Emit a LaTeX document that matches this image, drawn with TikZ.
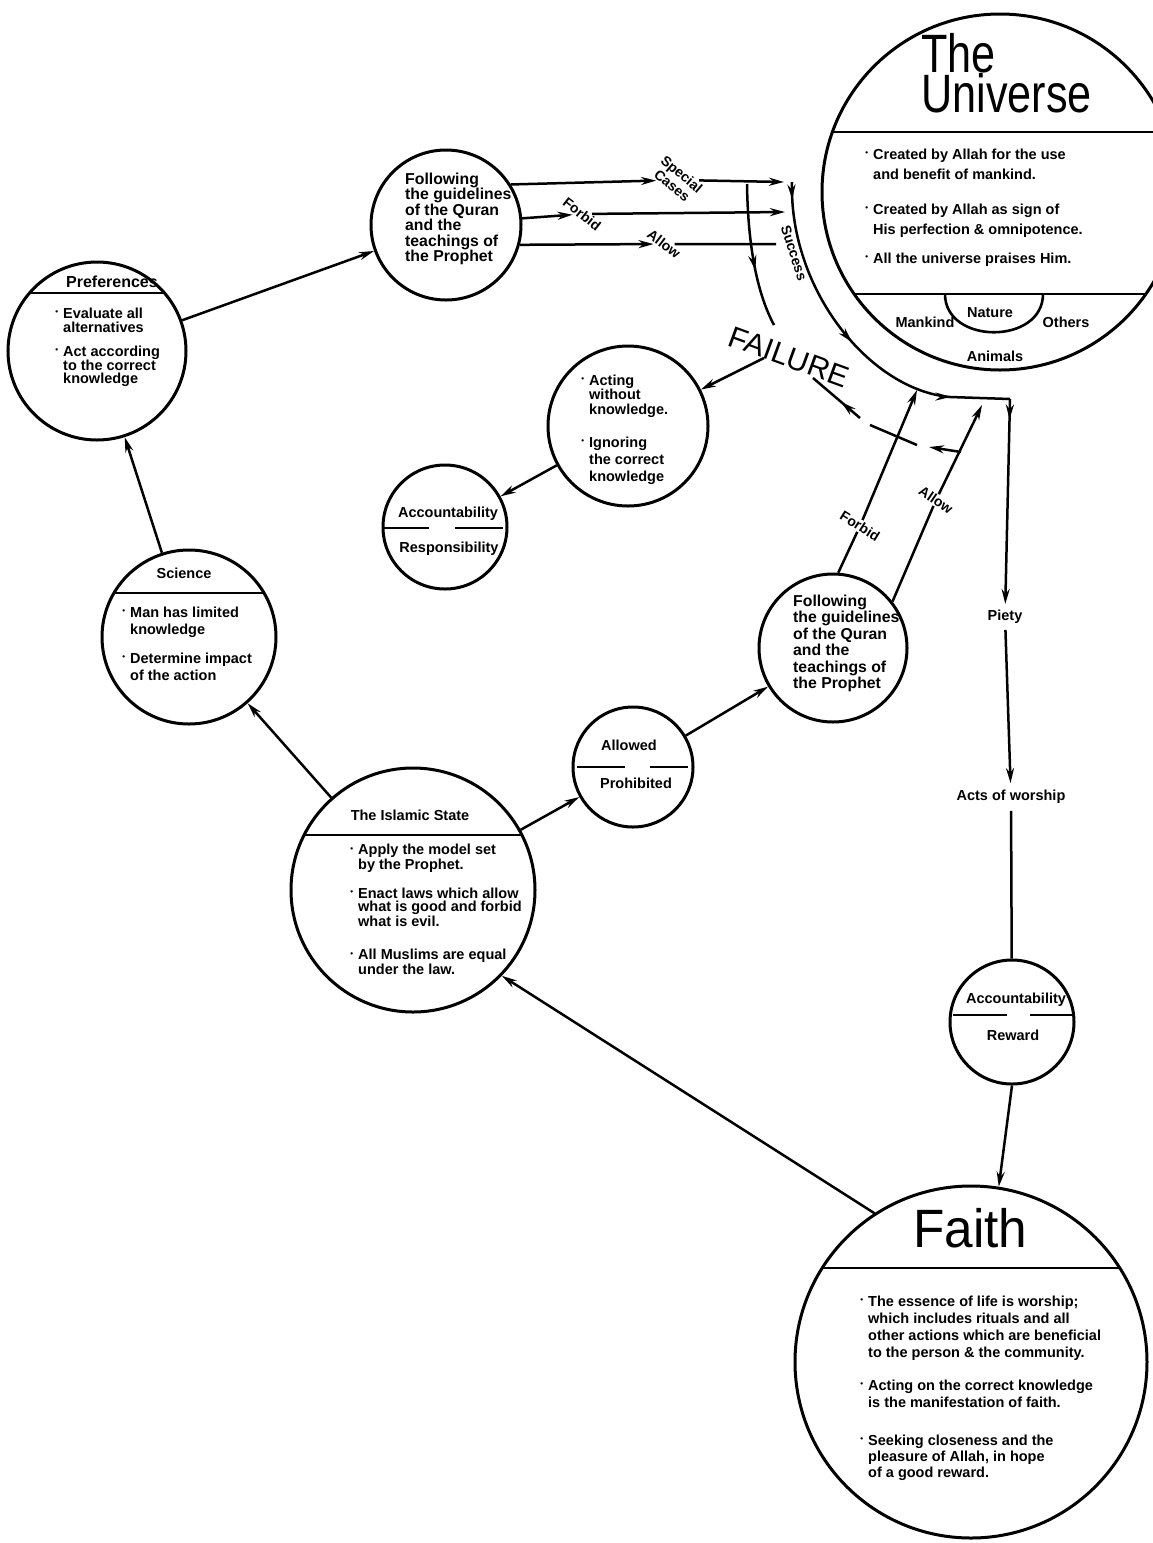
\documentclass[tikz,border=0pt]{standalone}
\usepackage{fontspec}
\setmainfont{Liberation Sans}
\newfontfamily\condsans[FakeStretch=0.8]{Liberation Sans}
\newfontfamily\titlesans[FakeStretch=0.95]{Liberation Sans}
\usetikzlibrary{arrows.meta,decorations.markings}

% small raised bullet hung to the left of a line
\newcommand\bul{\llap{\raisebox{3.5pt}{\fontsize{8}{8}\selectfont\textbullet}\hspace{5pt}}}
\newcommand\bodyfont[1]{\fontsize{14.5}{#1}\selectfont\bfseries}
\newcommand\guidefont[1]{\fontsize{15.8}{#1}\selectfont\bfseries}

\begin{document}
\begin{tikzpicture}[x=1pt,y=-1pt,
  ring/.style={circle,draw,line width=3pt,inner sep=0pt},
  conn/.style={line width=2.5pt},
  arr/.style={conn,-{Stealth[length=15pt,width=8pt]}},
  midarr/.style={postaction={decorate,decoration={markings,
      mark=at position #1 with {\arrow{Stealth[length=15pt,width=8pt]}}}}},
  % multi-line blocks are placed by the baseline of their last line
  body/.style={font=\bodyfont{#1},align=left,inner sep=0pt,anchor=base west},
  body/.default=15,
  guide/.style={font=\guidefont{#1},align=left,inner sep=0pt,anchor=base west},
  word/.style={font=\bodyfont{15},inner sep=0pt,anchor=base},
  lbl/.style={font=\fontsize{14}{15}\selectfont\bfseries,inner sep=1pt,fill=white,align=center},
  halfline/.style={line width=2.2pt}
]
\fill[white] (0,0) rectangle (1152,1543);
\useasboundingbox (0,0) rectangle (1152,1543);

% ---------- circles ----------
\node[ring,minimum size=356pt] (uni) at (1000,192) {};
\node[ring,minimum size=150pt] (fol1) at (446,225) {};
\node[ring,minimum size=178pt] (pref) at (97,351) {};
\node[ring,minimum size=174pt] (sci) at (189,637) {};
\node[ring,minimum size=244pt] (isl) at (413,890) {};
\node[ring,minimum size=120pt] (alw) at (633,767) {};
\node[ring,minimum size=148pt] (fol2) at (833,648) {};
\node[ring,minimum size=160pt] (act) at (628,426) {};
\node[ring,minimum size=124pt] (accr) at (445,527) {};
\node[ring,minimum size=124pt] (rew) at (1012,1022) {};
\node[ring,minimum size=352pt] (faith) at (971,1362) {};

% ---------- dividers ----------
\begin{scope}
  \clip (uni.center) circle[radius=178];
  \draw[line width=2.8pt] (800,132) -- (1200,132) (800,294) -- (1200,294);
\end{scope}
\draw[line width=2.6pt] (945,294) .. controls (945,345) and (1043,345) .. (1043,294);
\begin{scope}
  \clip (pref.center) circle[radius=89];
  \draw[line width=2.6pt] (0,293) -- (200,293);
\end{scope}
\begin{scope}
  \clip (sci.center) circle[radius=87];
  \draw[line width=2.6pt] (90,593) -- (290,593);
\end{scope}
\begin{scope}
  \clip (isl.center) circle[radius=122];
  \draw[line width=2.8pt] (280,835) -- (550,835);
\end{scope}
\begin{scope}
  \clip (faith.center) circle[radius=176];
  \draw[line width=2.8pt] (780,1268) -- (1160,1268);
\end{scope}
\draw[halfline] (577,767) -- (625,767) (650,767) -- (688,767);
\draw[halfline] (384,528) -- (429,528) (455,528) -- (503,528);
\draw[halfline] (953,1015) -- (1007,1015) (1030,1015) -- (1072,1015);

% ---------- The Universe ----------
\node[anchor=base west,inner sep=0pt,align=left,font=\condsans\fontsize{54}{40}\selectfont] (unititle) at (921,112) {The\\Universe};
\node[body=20] (u1) at (873,179) {\bul Created by Allah for the use\\and benefit of mankind.};
\node[body=20] (u2) at (873,234) {\bul Created by Allah as sign of\\His perfection \& omnipotence.};
\node[body] (u3) at (873,263) {\bul All the universe praises Him.};
\node[word] (umank) at (925,327) {Mankind};
\node[word] (unat) at (990,317) {Nature};
\node[word] (uoth) at (1066,327) {Others};
\node[word] (uani) at (995,361) {Animals};

% ---------- text in the other circles ----------
\node[guide=15.5] (fol1t) at (405,261.5) {Following\\the guidelines\\of the Quran\\and the\\teachings of\\the Prophet};
\node[word,font=\fontsize{16}{16}\selectfont\bfseries] (preft) at (112,287) {Preferences};
\node[body=14] (p1) at (63,332) {\bul Evaluate all\\alternatives};
\node[body=12.7] (p2) at (63,383.4) {\bul Act according\\to the correct\\knowledge};
\node[word] (scit) at (184,578) {Science};
\node[body=17] (s1) at (130,634) {\bul Man has limited\\knowledge};
\node[body=17] (s2) at (130,680) {\bul Determine impact\\of the action};
\node[word] (islt) at (410,820) {The Islamic State};
\node[body=12.5] (i1) at (358,869.5) {\bul Apply the model set\\by the Prophet.};
\node[body=13] (i2) at (358,926) {\bul Enact laws which allow\\what is good and forbid\\what is evil.};
\node[body=12.5] (i3) at (358,974.5) {\bul All Muslims are equal\\under the law.};
\node[word] (alwt) at (629,750) {Allowed};
\node[word] (prot) at (636,788) {Prohibited};
\node[word] (accrt) at (448,517) {Accountability};
\node[word] (respt) at (449,552) {Responsibility};
\node[word] (rewt1) at (1016,1003) {Accountability};
\node[word] (rewt2) at (1013,1040) {Reward};
\node[body=14.5] (a1) at (589,414) {\bul Acting\\without\\knowledge.};
\node[body=17] (a2) at (589,481) {\bul Ignoring\\the correct\\knowledge};
\node[guide=16.5] (fol2t) at (793,688.5) {Following\\the guidelines\\of the Quran\\and the\\teachings of\\the Prophet};
\node[anchor=base west,inner sep=0pt,font=\titlesans\fontsize{54}{54}\selectfont] (faitht) at (913,1247) {Faith};
\node[body=17] (f1) at (868,1357) {\bul The essence of life is worship;\\which includes rituals and all\\other actions which are beneficial\\to the person \& the community.};
\node[body=17] (f2) at (868,1407) {\bul Acting on the correct knowledge\\is the manifestation of faith.};
\node[body=16] (f3) at (868,1477) {\bul Seeking closeness and the\\pleasure of Allah, in hope\\of a good reward.};

% ---------- free labels ----------
\node[font=\bodyfont{15},inner sep=6pt] (piety) at (1005,617) {Piety};
\node[font=\bodyfont{15},inner sep=7pt] (acts) at (1011,797) {Acts of worship};
\node[lbl,rotate=-40] (sc) at (677,180) {Special\\Cases};
\node[lbl,rotate=-38] (fbA) at (582,214) {Forbid};
\node[lbl,rotate=-37] (alA) at (664,244) {Allow};
\node[lbl,rotate=-32] (fbB) at (860,526) {Forbid};
\node[lbl,rotate=-34] (alB) at (936,500) {Allow};

% ---------- named free ends ----------
\coordinate (scend) at (784,182);
\coordinate (fbend) at (785,212);
\coordinate (alend) at (776,244);
\coordinate (s0) at (792,182);
\coordinate (s1) at (950,397);
\coordinate (corner) at (1010,399);
\coordinate (ftop) at (747,184);
\coordinate (fend) at (774,325);
\coordinate (fsrc) at (764,358);
\coordinate (ftopB) at (917,390);
\coordinate (atopB) at (982,405);
\coordinate (d1) at (961,452);
\coordinate (d2) at (929,447);
\coordinate (d3) at (917,445);
\coordinate (d4) at (870,425);
\coordinate (d5) at (860,418);
\coordinate (d6) at (813,378);

% ---------- connectors ----------
\draw[arr] (pref) -- (fol1);
\draw[arr] (sci) -- (pref);
\draw[arr] (isl) -- (sci);
\draw[arr] (isl) -- (alw);
\draw[arr] (alw) -- (fol2);
\draw[arr] (act) -- (accr);
\draw[arr] (faith.123) -- (isl.-44);
\draw[arr] (rew.south) -- (faith.81);

\draw[arr] (fol1.32) -- (sc);
\draw[arr] (sc) -- (scend);
\draw[arr] (fol1.5) -- (fbA);
\draw[arr] (fbA) -- (fbend);
\draw[arr] (fol1.-15) -- (alA);
\draw[conn] (alA) -- (alend);

% success path round the universe, down through piety and worship
\draw[conn,midarr=0.05,midarr=0.5,midarr=0.83] (s0) .. controls (789,290) and (870,390) .. (s1) -- (corner);
\draw[arr,midarr=0.1] (corner) -- (piety);
\draw[arr] (piety) -- (acts);
\draw[conn] (acts) -- (rew);

% failure path
\draw[conn,midarr=0.6] (ftop) .. controls (748,250) and (758,295) .. (fend);
\draw[arr] (fsrc) -- (act);

% forbid / allow rising from the lower circle
\draw[arr] (fol2.86) -- (fbB) -- (ftopB);
\draw[arr] (fol2.38) -- (alB) -- (atopB);

% broken return to failure
\draw[arr] (d1) -- (d2);
\draw[conn] (d3) -- (d4);
\draw[conn,midarr=0.4] (d5) -- (d6);

\node[lbl,rotate=-72] (succ) at (794,253) {Success};
\node[inner sep=0pt,rotate=-20,font=\fontsize{30}{30}\selectfont] (fail) at (789,357) {FAILURE};
\end{tikzpicture}
\end{document}
